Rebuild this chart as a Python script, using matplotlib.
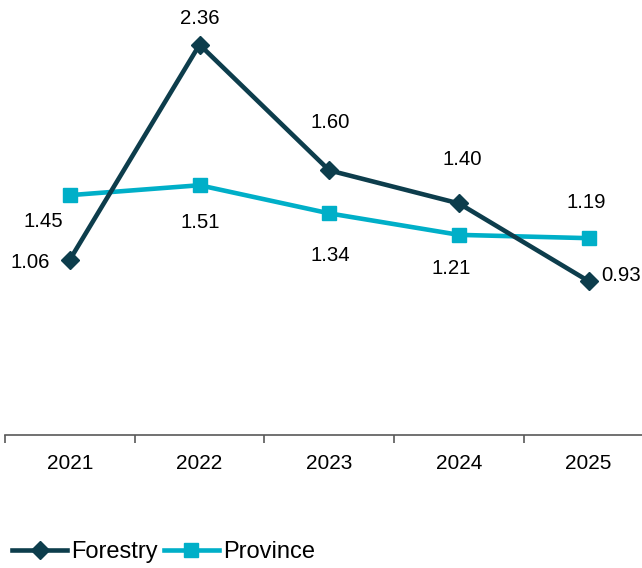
import matplotlib
matplotlib.use("Agg")
import matplotlib.pyplot as plt
from matplotlib.lines import Line2D

plt.rcParams['font.family'] = ['Liberation Sans', 'DejaVu Sans']

years = ["2021", "2022", "2023", "2024", "2025"]
forestry = [1.06, 2.36, 1.60, 1.40, 0.93]
province = [1.45, 1.51, 1.34, 1.21, 1.19]

c_for = "#0D3D4C"
c_pro = "#00AFC8"

W, H = 642, 568
fig = plt.figure(figsize=(W/100, H/100), dpi=100)
left, right = 5, 653.5
bottom, top = 435, 21.5
ax = fig.add_axes([left/W, 1 - bottom/H, (right-left)/W, (bottom-top)/H])
ax.set_xlim(-0.5, 4.5)
ax.set_ylim(0, 2.5)

x = list(range(len(years)))
ax.plot(x, province, color=c_pro, lw=3.3, marker='s', ms=10, zorder=3, clip_on=False)
ax.plot(x, forestry, color=c_for, lw=3.3, marker='D', ms=9.5, zorder=4, clip_on=False)

fs = 14.7
cap_half = fs / 0.72 * 0.716 / 2  # px
# label centre offsets in pixels (dx right, dy up)
f_off = [(-40, -1), (0, 28), (1, 50), (3, 46), (32, 7)]
p_off = [(-27, -25), (1, -35), (1, -40), (-8, -32), (-2, 37.5)]
for vals, offs in ((forestry, f_off), (province, p_off)):
    for i, v in enumerate(vals):
        dx, dy = offs[i]
        ax.annotate(f"{v:.2f}", (i, v), xytext=(dx*0.72, (dy - cap_half)*0.72),
                    textcoords='offset points', ha='center', va='baseline',
                    fontsize=fs, color='#000000')

for s in ['top', 'right', 'left']:
    ax.spines[s].set_visible(False)
ax.spines['bottom'].set_color('#595959')
ax.spines['bottom'].set_linewidth(1.2)
ax.set_yticks([])
ax.set_xticks([i - 0.5 for i in range(len(years) + 1)], minor=False)
ax.set_xticklabels([])
ax.tick_params(axis='x', which='major', length=6, color='#595959', width=1.2, direction='out')
ax.set_xticks(x, minor=True)
ax.set_xticklabels(years, minor=True, fontsize=15)
ax.tick_params(axis='x', which='minor', length=0, pad=14)

handles = [Line2D([], [], color=c_for, lw=3.3, marker='D', ms=9.5),
           Line2D([], [], color=c_pro, lw=3.3, marker='s', ms=10)]
fig.legend(handles, ["Forestry", "Province"], loc='center left',
           bbox_to_anchor=(5/W, 1 - 552/H), frameon=False, ncol=2, fontsize=17,
           handlelength=2.33, handletextpad=0.17, columnspacing=0.25, borderaxespad=0,
           borderpad=0.3)

fig.savefig("out.png", dpi=100)
